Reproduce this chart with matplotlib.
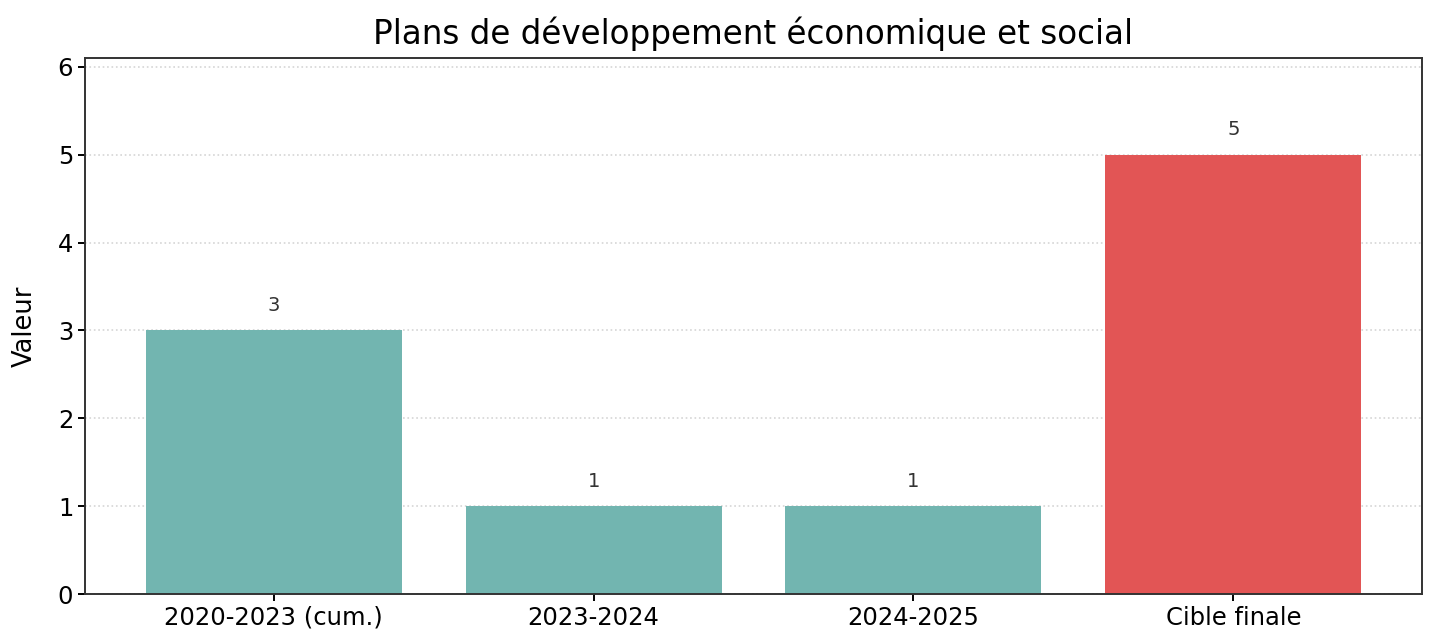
import matplotlib
matplotlib.use("Agg")
import matplotlib.pyplot as plt

categories = ["2020-2023 (cum.)", "2023-2024", "2024-2025", "Cible finale"]
values = [3, 1, 1, 5]
bar_colors = ["#72b5b0", "#72b5b0", "#72b5b0", "#e25555"]

fig = plt.figure(figsize=(14.31, 6.37), dpi=100)
ax = fig.add_axes([0.0594, 0.0675, 0.9343, 0.8415])

bars = ax.bar(categories, values, width=0.8, color=bar_colors, zorder=2)

for rect, v in zip(bars, values):
    ax.annotate(str(v), (rect.get_x() + rect.get_width() / 2, rect.get_height()),
                xytext=(0, 11), textcoords="offset points",
                ha="center", va="bottom", fontsize=14, color="#333333")

ax.set_ylim(0, max(values) * 1.22)
ax.set_title("Plans de développement économique et social", fontsize=23.5, pad=10)
ax.set_ylabel("Valeur", fontsize=18.5, labelpad=14)
ax.tick_params(axis="both", labelsize=17.5, width=1.4, length=5)
ax.yaxis.grid(True, linestyle=":", color="#d5d5d5", linewidth=1.2, zorder=0)
for s in ax.spines.values():
    s.set_linewidth(1.4)
    s.set_color("#333333")

fig.savefig("out.png", dpi=100)
